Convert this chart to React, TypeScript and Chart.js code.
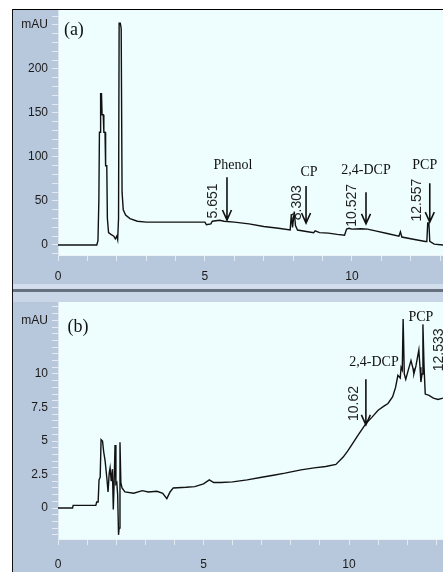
import React, { useEffect, useRef } from "react";
import { Chart, registerables } from "chart.js";
Chart.register(...registerables);

// ---------- Panel (a) data ----------
const timeA = [0, 1.32, 1.36, 1.39, 1.41, 1.44, 1.45, 1.48, 1.5, 1.54, 1.56, 1.6, 1.62, 1.66, 1.68, 1.72, 1.8, 1.9, 1.95, 2.0, 2.03, 2.06, 2.08, 2.12, 2.15, 2.18, 2.22, 2.3, 2.45, 2.7, 3.0, 4.0, 5.0, 5.05, 5.2, 5.25, 5.5, 5.651, 6.0, 6.5, 7.0, 7.5, 7.9, 7.94, 7.98, 8.04, 8.08, 8.15, 8.5, 8.7, 8.75, 8.9, 9.2, 9.5, 9.75, 9.82, 9.9, 10.0, 10.3, 10.527, 10.8, 11.2, 11.6, 11.65, 11.7, 12.0, 12.5, 12.55, 12.58, 12.62, 12.65, 12.8, 13.1];
const signalA = [0, 0, 5, 50, 128, 128, 172, 172, 148, 148, 128, 128, 90, 90, 30, 14, 12, 10, 7, 10, 6, 30, 252, 252, 246, 60, 40, 34, 30, 27, 26, 26, 26, 23, 24, 27, 28, 27, 26, 24, 21, 19, 17, 35, 20, 38, 22, 17, 15, 14, 16, 14, 13.5, 12, 11, 18, 19, 18, 18.5, 18, 16, 13, 10, 15, 9, 7, 4, 4, 25, 25, 4, 1, 0];

const yTickValuesA = [0, 50, 100, 150, 200, 250];
const yTickLabelsA = ["0", "50", "100", "150", "200", "mAU"];
const yMinorStepA = 10;

const peakNamesA = ["Phenol", "CP", "2,4-DCP", "PCP"];
const peakNameTimeA = [5.95, 8.54, 10.48, 12.48];
const peakNameSignalA = [91, 83, 85, 91];
const arrowTimeA = [5.75, 8.44, 10.48, 12.65];
const arrowTopA = [77, 67, 60, 70];
const arrowTipA = [28.4, 25, 24, 26];
const rtLabelsA = ["5.651", "8.303", "10.527", "12.557"];
const rtTimeA = [5.27, 8.13, 10.0, 12.21];
const rtSignalA = [50, 48, 45, 51];

// ---------- Panel (b) data ----------
const timeB = [0, 0.5, 0.52, 1.3, 1.33, 1.38, 1.41, 1.45, 1.48, 1.53, 1.57, 1.62, 1.68, 1.72, 1.76, 1.79, 1.83, 1.87, 1.9, 1.93, 1.96, 1.99, 2.02, 2.05, 2.08, 2.1, 2.13, 2.16, 2.2, 2.3, 2.6, 2.9, 3.1, 3.4, 3.6, 3.74, 3.85, 3.96, 4.4, 4.7, 5.0, 5.2, 5.35, 5.6, 6.0, 6.5, 7.0, 7.4, 7.8, 8.35, 8.8, 9.2, 9.55, 9.8, 9.97, 10.15, 10.3, 10.58, 10.8, 11.0, 11.2, 11.34, 11.5, 11.6, 11.68, 11.76, 11.79, 11.83, 11.86, 11.9, 11.95, 12.05, 12.13, 12.2, 12.23, 12.3, 12.4, 12.44, 12.47, 12.51, 12.54, 12.58, 12.62, 12.75, 12.9, 13.06, 13.23];
const signalB = [0, 0, 0.2, 0.2, 0.45, 0.45, 2.1, 2.3, 5.1, 5.0, 4.2, 3.5, 2.2, 1.2, 2.6, 3.0, 2.0, 2.9, -0.1, 2.0, 4.7, 1.8, 1.9, 1.0, -2.0, -1.5, 4.9, 1.9, 1.5, 1.2, 1.1, 1.3, 1.2, 1.25, 1.1, 0.7, 1.2, 1.5, 1.55, 1.6, 1.8, 2.1, 1.9, 1.9, 1.95, 2.1, 2.3, 2.45, 2.6, 2.85, 3.0, 3.1, 3.25, 3.8, 4.3, 4.9, 5.4, 6.3, 6.8, 7.3, 7.6, 7.8, 8.3, 9.0, 9.9, 9.7, 10.5, 10.3, 14.1, 10.0, 9.6, 10.4, 11.0, 10.4, 10.0, 10.6, 11.8, 10.5, 9.4, 10.0, 13.7, 10.5, 8.5, 8.4, 8.2, 8.1, 8.2];

const yTickValuesB = [0, 2.5, 5, 7.5, 10, 14];
const yTickLabelsB = ["0", "2.5", "5", "7.5", "10", "mAU"];
const yMinorStepB = 0.5;

const peakNamesB = ["2,4-DCP", "PCP"];
const peakNameTimeB = [10.86, 12.47];
const peakNameSignalB = [10.9, 14.25];
const arrowTimeB = [10.58];
const arrowTopB = [9.6];
const arrowTipB = [6.2];
const rtLabelsB = ["10.62", "12.533"];
const rtTimeB = [10.17, 13.09];
const rtSignalB = [7.8, 11.8];

const xTickValues = [0, 5, 10];
const xMinorStep = 1;

const BAND = "#b8c8dc";
const PLOT = "#eefeff";
const TICK = "#e4ebf3";
const SANS = '"Liberation Sans", Arial, sans-serif';
const SERIF = '"Liberation Serif", "Times New Roman", serif';

type Spec = {
  time: number[];
  signal: number[];
  xMax: number;
  yMin: number;
  yMax: number;
  yTicks: number[];
  yLabels: string[];
  yMinor: number;
  panel: string;
  panelT: number;
  panelV: number;
  names: string[];
  nameT: number[];
  nameV: number[];
  arrowT: number[];
  arrowTop: number[];
  arrowTip: number[];
  rt: string[];
  rtT: number[];
  rtV: number[];
  xHeight: number;
  xPad: number;
  nameSize: number;
};

function makeChart(canvas: HTMLCanvasElement, s: Spec) {
  const pts = s.time.map((t, i) => ({ x: t, y: s.signal[i] }));
  const yAll: number[] = [];
  const start = Math.ceil(s.yMin / s.yMinor);
  const end = Math.floor(s.yMax / s.yMinor);
  for (let i = start; i <= end; i++) yAll.push(+(i * s.yMinor).toFixed(4));
  s.yTicks.forEach((v) => { if (!yAll.includes(v)) yAll.push(v); });
  const xAll: number[] = [];
  for (let i = 0; i * xMinorStep <= s.xMax; i++) xAll.push(i * xMinorStep);

  const plugin = {
    id: "decor",
    beforeDraw(chart: any) {
      const { ctx, chartArea: a, width, height } = chart;
      ctx.save();
      ctx.fillStyle = BAND;
      ctx.fillRect(0, 0, width, height);
      ctx.fillStyle = PLOT;
      ctx.fillRect(a.left, a.top, a.right - a.left, a.bottom - a.top);
      ctx.restore();
    },
    afterDraw(chart: any) {
      const { ctx } = chart;
      const xs = chart.scales.x;
      const ys = chart.scales.y;
      const px = (t: number) => xs.getPixelForValue(t);
      const py = (v: number) => ys.getPixelForValue(v);
      ctx.save();
      ctx.fillStyle = "#111";
      ctx.strokeStyle = "#111";
      ctx.textAlign = "center";
      ctx.textBaseline = "middle";
      ctx.font = `18px ${SERIF}`;
      ctx.fillText(s.panel, px(s.panelT), py(s.panelV));
      ctx.font = `${s.nameSize}px ${SERIF}`;
      s.names.forEach((n, i) => ctx.fillText(n, px(s.nameT[i]), py(s.nameV[i])));
      ctx.lineWidth = 1.6;
      s.arrowT.forEach((t, i) => {
        const x = px(t);
        const y0 = py(s.arrowTop[i]);
        const y1 = py(s.arrowTip[i]);
        ctx.beginPath();
        ctx.moveTo(x, y0);
        ctx.lineTo(x, y1);
        ctx.moveTo(x - 4.5, y1 - 10);
        ctx.lineTo(x, y1);
        ctx.lineTo(x + 4.5, y1 - 10);
        ctx.stroke();
      });
      ctx.font = `14px ${SANS}`;
      ctx.fillStyle = "#222";
      s.rt.forEach((r, i) => {
        ctx.save();
        ctx.translate(px(s.rtT[i]), py(s.rtV[i]));
        ctx.rotate(-Math.PI / 2);
        ctx.fillText(r, 0, 0);
        ctx.restore();
      });
      ctx.restore();
    },
  };

  return new Chart(canvas, {
    type: "line",
    data: {
      datasets: [
        {
          data: pts,
          borderColor: "#111",
          borderWidth: 1.4,
          pointRadius: 0,
          tension: 0,
          fill: false,
        },
      ],
    },
    options: {
      animation: false,
      responsive: false,
      devicePixelRatio: 1,
      events: [],
      layout: { padding: 0 },
      plugins: { legend: { display: false }, tooltip: { enabled: false } },
      scales: {
        x: {
          type: "linear",
          min: 0,
          max: s.xMax,
          afterBuildTicks: (sc: any) => {
            sc.ticks = xAll.map((v) => ({ value: v }));
          },
          afterFit: (sc: any) => {
            sc.height = s.xHeight;
            sc.paddingLeft = 0;
            sc.paddingRight = 0;
            sc.paddingTop = 0;
            sc.paddingBottom = 0;
          },
          ticks: {
            autoSkip: false,
            maxRotation: 0,
            padding: s.xPad,
            color: "#1a1a1a",
            font: { family: SANS, size: 12 },
            callback: (v: any) => (xTickValues.includes(Number(v)) ? String(v) : ""),
          },
          grid: { drawOnChartArea: false, tickLength: 6, color: TICK, tickColor: TICK },
          border: { display: true, color: "#eef3f8", width: 1 },
        },
        y: {
          type: "linear",
          min: s.yMin,
          max: s.yMax,
          afterBuildTicks: (sc: any) => {
            sc.ticks = yAll.map((v) => ({ value: v }));
          },
          afterFit: (sc: any) => {
            sc.width = 45;
            sc.paddingLeft = 0;
            sc.paddingRight = 0;
            sc.paddingTop = 0;
            sc.paddingBottom = 0;
          },
          ticks: {
            autoSkip: false,
            padding: 4,
            color: "#1a1a1a",
            font: { family: SANS, size: 12 },
            callback: (v: any) => {
              const i = s.yTicks.indexOf(Number(v));
              return i >= 0 ? s.yLabels[i] : "";
            },
          },
          grid: { drawOnChartArea: false, tickLength: 6, color: TICK, tickColor: TICK },
          border: { display: true, color: "#dfe6ef", width: 1 },
        },
      },
    },
    plugins: [plugin],
  } as any);
}

function Panel({ spec, top, height }: { spec: Spec; top: number; height: number }) {
  const ref = useRef<HTMLCanvasElement>(null);
  useEffect(() => {
    if (!ref.current) return;
    const c = makeChart(ref.current, spec);
    return () => c.destroy();
  }, []);
  return (
    <canvas
      ref={ref}
      width={430}
      height={height}
      style={{ position: "absolute", left: 13, top, width: 430, height, display: "block" }}
    />
  );
}

const specA: Spec = {
  time: timeA,
  signal: signalA,
  xMax: 13.1,
  yMin: -11.4,
  yMax: 267,
  yTicks: yTickValuesA,
  yLabels: yTickLabelsA,
  yMinor: yMinorStepA,
  panel: "(a)",
  panelT: 0.54,
  panelV: 244,
  names: peakNamesA,
  nameT: peakNameTimeA,
  nameV: peakNameSignalA,
  arrowT: arrowTimeA,
  arrowTop: arrowTopA,
  arrowTip: arrowTipA,
  rt: rtLabelsA,
  rtT: rtTimeA,
  rtV: rtSignalA,
  xHeight: 29,
  xPad: 8,
  nameSize: 14,
};

const specB: Spec = {
  time: timeB,
  signal: signalB,
  xMax: 13.23,
  yMin: -2.31,
  yMax: 15.37,
  yTicks: yTickValuesB,
  yLabels: yTickLabelsB,
  yMinor: yMinorStepB,
  panel: "(b)",
  panelT: 0.69,
  panelV: 13.5,
  names: peakNamesB,
  nameT: peakNameTimeB,
  nameV: peakNameSignalB,
  arrowT: arrowTimeB,
  arrowTop: arrowTopB,
  arrowTip: arrowTipB,
  rt: rtLabelsB,
  rtT: rtTimeB,
  rtV: rtSignalB,
  xHeight: 33,
  xPad: 12,
  nameSize: 14,
};

export default function App() {
  return (
    <div
      style={{
        position: "fixed",
        left: 0,
        top: 0,
        width: 443,
        height: 572,
        background: "#fff",
        overflow: "hidden",
      }}
    >
      <div style={{ position: "absolute", left: 12, top: 9, width: 431, height: 1, background: "#000" }} />
      <div style={{ position: "absolute", left: 12, top: 9, width: 1, height: 563, background: "#111" }} />
      <Panel spec={specA} top={10} height={274} />
      <div style={{ position: "absolute", left: 13, top: 284, width: 430, height: 5, background: "#d3deec" }} />
      <div style={{ position: "absolute", left: 13, top: 289, width: 430, height: 3, background: "#66707f" }} />
      <div style={{ position: "absolute", left: 13, top: 292, width: 430, height: 10, background: "#c9d6e8" }} />
      <Panel spec={specB} top={302} height={270} />
    </div>
  );
}
